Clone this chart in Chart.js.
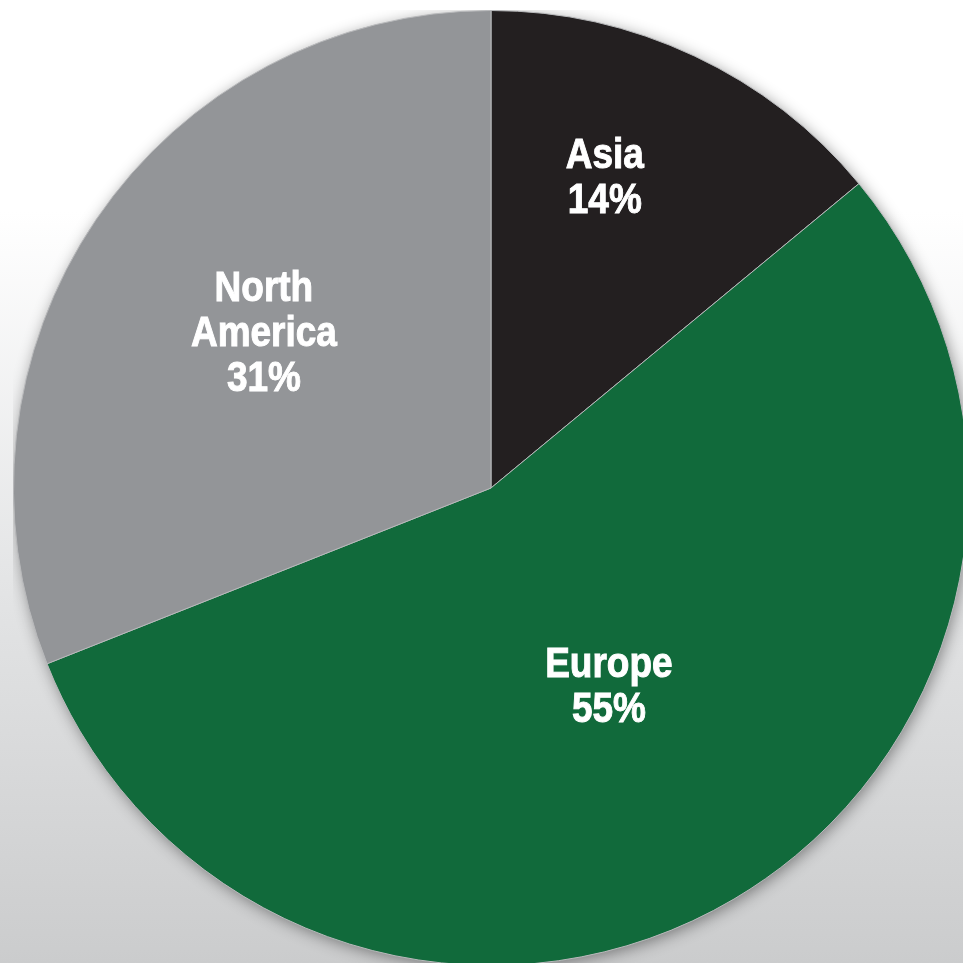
<!DOCTYPE html>
<html lang="en">
<head>
  <meta charset="UTF-8">
  <title>Sales by Region</title>
  <script src="https://cdn.jsdelivr.net/npm/chart.js"></script>
  <style>
    html, body { margin: 0; padding: 0; width: 963px; height: 963px; overflow: hidden; }
    body { background: linear-gradient(to bottom, #ffffff 0%, #ffffff 22%, #e4e5e6 60%, #cbcccd 100%); position: relative; }
    #wrap { position: absolute; left: 13px; top: 10px; width: 956px; height: 956px; }
  </style>
</head>
<body>
  <div id="wrap"><canvas id="chart"></canvas></div>

  <script>
    // data
    const regions = ['Asia', 'Europe', 'North America'];
    const shares = [14, 55, 31];
    const labelLines = [['Asia', '14%'], ['Europe', '55%'], ['North', 'America', '31%']];

    const colors = ['#231f20', '#116a3b', '#939598'];
    // label placement relative to slice: fraction of radius, angle nudge (deg)
    const labelRadius = [0.69, 0.485, 0.575];
    const labelNudge = [-5, 0, 0];

    const pieShadow = {
      id: 'pieShadow',
      beforeDatasetsDraw(chart) {
        const arc = chart.getDatasetMeta(0).data[0];
        if (!arc) return;
        const ctx = chart.ctx;
        ctx.save();
        ctx.shadowColor = 'rgba(0,0,0,0.45)';
        ctx.shadowBlur = 16;
        ctx.shadowOffsetX = 2;
        ctx.shadowOffsetY = 3;
        ctx.fillStyle = '#888';
        ctx.beginPath();
        ctx.arc(arc.x, arc.y, arc.outerRadius - 1, 0, Math.PI * 2);
        ctx.fill();
        ctx.restore();
      }
    };

    // condensed bold look: squeeze Liberation Sans horizontally
    const squeeze = 0.86;

    const sliceLabels = {
      id: 'sliceLabels',
      afterDatasetsDraw(chart) {
        const ctx = chart.ctx;
        chart.getDatasetMeta(0).data.forEach((arc, i) => {
          const p = arc.getProps(['x', 'y', 'startAngle', 'endAngle', 'outerRadius'], true);
          const mid = (p.startAngle + p.endAngle) / 2 + labelNudge[i] * Math.PI / 180;
          const r = p.outerRadius * labelRadius[i];
          const cx = p.x + Math.cos(mid) * r;
          const cy = p.y + Math.sin(mid) * r;
          const lines = labelLines[i];
          const lh = 45;
          ctx.save();
          ctx.translate(cx, cy);
          ctx.scale(squeeze, 1);
          ctx.fillStyle = '#ffffff';
          ctx.strokeStyle = '#ffffff';
          ctx.lineWidth = 1;
          ctx.font = 'bold 43px "Liberation Sans", Arial, sans-serif';
          ctx.textAlign = 'center';
          ctx.textBaseline = 'middle';
          lines.forEach((t, k) => {
            const y = (k - (lines.length - 1) / 2) * lh;
            ctx.fillText(t, 0, y);
            ctx.strokeText(t, 0, y);
          });
          ctx.restore();
        });
      }
    };

    new Chart(document.getElementById('chart'), {
      type: 'pie',
      data: {
        labels: regions,
        datasets: [{
          data: shares,
          backgroundColor: colors,
          borderColor: '#b8b9bb',
          borderWidth: 1,
          hoverOffset: 0
        }]
      },
      options: {
        responsive: true,
        maintainAspectRatio: false,
        animation: false,
        layout: { padding: 0 },
        plugins: { legend: { display: false }, tooltip: { enabled: false } }
      },
      plugins: [pieShadow, sliceLabels]
    });
  </script>
</body>
</html>
